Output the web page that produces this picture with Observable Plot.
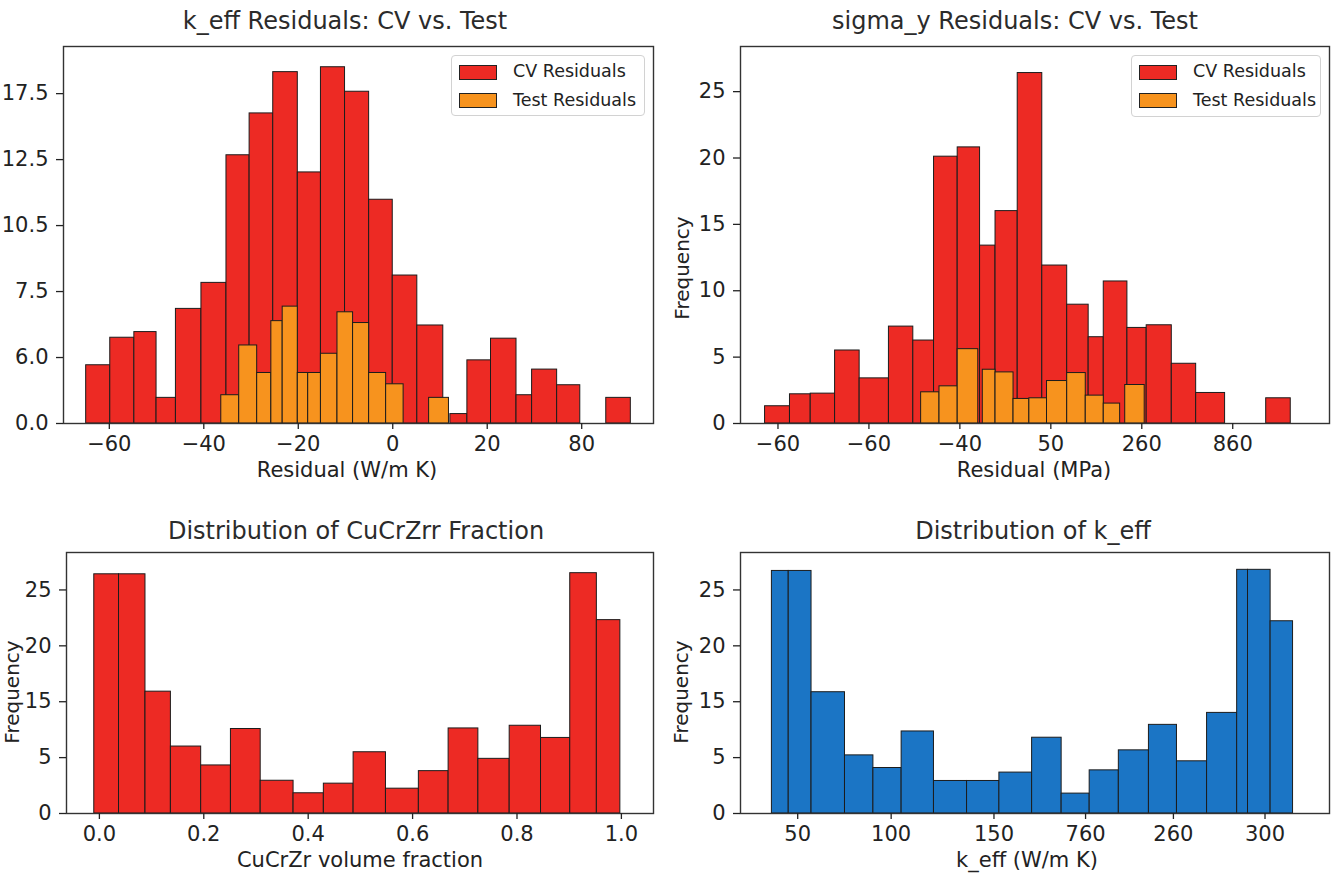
<!DOCTYPE html>
<html><head><meta charset="utf-8">
<script src="https://cdn.jsdelivr.net/npm/d3@7"></script>
<script src="https://cdn.jsdelivr.net/npm/@observablehq/plot@0.6"></script>
<style>
html,body{margin:0;padding:0;background:#fff;}
#root{position:relative;width:1336px;height:886px;overflow:hidden;font-family:"DejaVu Sans",sans-serif;color:#222;background:#fff;}
.panel{position:absolute;}
.panel svg{overflow:visible;}
.t{position:absolute;white-space:nowrap;line-height:1;transform:translate(-50%,-50%);}
.title{font-size:24px;color:#2b2b2b;}
.xl{font-size:21px;color:#222;}
.yl{font-size:20px;color:#222;transform:translate(-50%,-50%) rotate(-90deg);}
.legend{position:absolute;border:1px solid #d2d2d2;border-radius:4px;background:rgba(255,255,255,0.85);box-sizing:border-box;}
.sw{position:absolute;box-sizing:border-box;border:1px solid #222;}
.lt{position:absolute;font-size:17.5px;line-height:1;transform:translateY(-50%);white-space:nowrap;color:#222;}
</style></head><body><div id="root"></div>
<script>
// ---------- Panel 1: k_eff residuals ----------
const kCvLo    = [-64.9,-59.8,-54.7,-50.0,-45.9,-40.5,-35.2,-30.3,-25.3,-20.1,-15.2,-10.1,-5.0,0,5.2,12.2,15.8,20.8,26.2,29.5,34.8,45.2];
const kCvHi    = [-59.8,-54.7,-50.0,-45.9,-40.5,-35.2,-30.3,-25.3,-20.1,-15.2,-10.1,-5.0,0,5.2,10.7,15.8,20.8,26.2,29.5,34.8,39.7,50.4];
const kCvCount = [3.09,4.55,4.85,1.36,6.08,7.46,14.23,16.45,18.64,13.32,18.9,17.6,11.87,7.85,5.2,0.5,3.35,4.5,1.5,2.86,2.03,1.36];
const kTeLo    = [-36.3,-32.5,-28.7,-25.7,-23.3,-20.1,-17.9,-15.2,-11.7,-8.4,-5.0,-1.4,7.7];
const kTeHi    = [-32.5,-28.7,-25.7,-23.3,-20.1,-17.9,-15.2,-11.7,-8.4,-5.0,-1.4,2.3,11.9];
const kTeCount = [1.5,4.14,2.68,5.43,6.2,2.68,2.68,3.7,5.9,5.33,2.68,2.08,1.36];
const kXTicks  = [-60,-40,-20,0,20,40];
const kXLabels = ["\u221260","\u221240","\u221220","0","20","80"];
const kYTicks  = [0,3.5,7,10.5,14,17.5];
const kYLabels = ["0.0","6.0","7.5","10.5","12.5","17.5"];

// ---------- Panel 2: sigma_y residuals ----------
const sCvLo    = [-107.1,-93.4,-82.0,-68.6,-55.1,-39.0,-25.6,-14.2,-1.2,11.1,19.6,31.8,45.3,59.0,70.8,79.1,92.1,102.7,116.5,129.9,168.4];
const sCvHi    = [-93.4,-82.0,-68.6,-55.1,-39.0,-25.6,-14.2,-1.2,11.1,19.6,31.8,45.3,59.0,70.8,79.1,92.1,102.7,116.5,129.9,145.8,181.9];
const sCvCount = [1.3,2.2,2.25,5.5,3.4,7.3,6.25,20.1,20.8,13.4,16.0,26.4,11.9,8.95,6.5,10.7,7.2,7.4,4.5,2.3,1.9];
const sTeLo    = [-21.3,-11.2,-1.2,12.6,19.6,29.5,38.2,47.9,59.0,69.2,79.1,90.9];
const sTeHi    = [-11.2,-1.2,10.1,19.6,29.5,38.2,47.9,59.0,69.2,79.1,88.1,101.6];
const sTeCount = [2.35,2.8,5.6,4.05,3.85,1.85,1.9,3.2,3.8,2.1,1.5,2.9];
const sXTicks  = [-100,-50,0,50,100,150];
const sXLabels = ["\u221260","\u221260","\u221240","50","260","860"];
const sYTicks  = [0,5,10,15,20,25];
const sYLabels = ["0","5","10","15","20","25"];

// ---------- Panel 3: CuCrZr fraction ----------
const fEdges  = [-0.0098,0.0376,0.0883,0.137,0.195,0.252,0.309,0.372,0.430,0.487,0.549,0.612,0.669,0.726,0.786,0.846,0.902,0.953,0.998];
const fCount  = [21.4,21.4,10.9,5.99,4.30,7.56,2.93,1.81,2.67,5.48,2.22,3.79,7.61,4.89,7.85,6.76,21.5,17.3];
const fXTicks = [0,0.2,0.4,0.6,0.8,1.0];
const fXLabels= ["0.0","0.2","0.4","0.6","0.8","1.0"];
const dYTicks = [0,5,10,15,20];
const dYLabels= ["0","5","15","20","25"];

// ---------- Panel 4: k_eff distribution ----------
const eEdges  = [36.2,45.2,57.4,75.3,90.5,105.6,122.9,140.6,157.9,175.4,191.2,206.2,221.8,237.9,252.9,269.0,285.1,290.9,303.0,315.0];
const eCount  = [21.7,21.7,10.85,5.2,4.07,7.34,2.91,2.91,3.66,6.78,1.78,3.86,5.65,7.93,4.67,9.0,21.8,21.8,17.2];
const eXTicks = [50,100,155,204,251,300];
const eXLabels= ["50","100","150","760","260","300"];

const RED = "#ed2a24", ORANGE = "#f7931e", BLUE = "#1b75c5";

const rows = (lo, hi, n) => n.map((v, i) => ({lo: lo[i], hi: hi[i], n: v}));
const fromEdges = (edges, n) => n.map((v, i) => ({lo: edges[i], hi: edges[i + 1], n: v}));

const root = document.getElementById("root");

function panel(o) {
  const xMap = new Map(o.xTicks.map((t, i) => [t, o.xLabels[i]]));
  const yMap = new Map(o.yTicks.map((t, i) => [t, o.yLabels[i]]));
  const svg = Plot.plot({
    width: o.width, height: o.height,
    marginTop: o.m[0], marginRight: o.m[1], marginBottom: o.m[2], marginLeft: o.m[3],
    x: {type: "linear", domain: o.xDomain},
    y: {type: "linear", domain: o.yDomain},
    style: {fontFamily: '"DejaVu Sans", sans-serif', fontSize: "21px", color: "#222", background: "transparent", overflow: "visible"},
    marks: [
      ...o.layers.map(L => Plot.rect(L.data, {x1: "lo", x2: "hi", y1: 0, y2: "n", fill: L.fill, stroke: "#1c1c1c", strokeWidth: 1})),
      Plot.frame({stroke: "#333", strokeWidth: 1.4}),
      Plot.axisX({ticks: o.xTicks, tickFormat: d => xMap.get(d), tickSize: 6, tickPadding: 7, label: null, strokeWidth: 1.3}),
      Plot.axisY({ticks: o.yTicks, tickFormat: d => yMap.get(d), tickSize: 7, tickPadding: 8, label: null, strokeWidth: 1.3})
    ]
  });
  const div = document.createElement("div");
  div.className = "panel";
  div.style.left = o.left + "px";
  div.style.top = o.top + "px";
  div.appendChild(svg);
  root.appendChild(div);
}

panel({left: 0, top: 0, width: 668, height: 470, m: [46, 15, 47, 63],
  xDomain: [-69.7, 55.2], yDomain: [0, 20],
  xTicks: kXTicks, xLabels: kXLabels, yTicks: kYTicks, yLabels: kYLabels,
  layers: [{data: rows(kCvLo, kCvHi, kCvCount), fill: RED}, {data: rows(kTeLo, kTeHi, kTeCount), fill: ORANGE}]});

panel({left: 668, top: 0, width: 668, height: 470, m: [46, 7, 47, 72],
  xDomain: [-120.6, 203.2], yDomain: [0, 28.4],
  xTicks: sXTicks, xLabels: sXLabels, yTicks: sYTicks, yLabels: sYLabels,
  layers: [{data: rows(sCvLo, sCvHi, sCvCount), fill: RED}, {data: rows(sTeLo, sTeHi, sTeCount), fill: ORANGE}]});

panel({left: 0, top: 500, width: 668, height: 360, m: [52, 15, 47, 66],
  xDomain: [-0.063, 1.0615], yDomain: [0, 23.35],
  xTicks: fXTicks, xLabels: fXLabels, yTicks: dYTicks, yLabels: dYLabels,
  layers: [{data: fromEdges(fEdges, fCount), fill: RED}]});

panel({left: 668, top: 500, width: 668, height: 360, m: [52, 7, 47, 72],
  xDomain: [19.4, 334.5], yDomain: [0, 23.35],
  xTicks: eXTicks, xLabels: eXLabels, yTicks: dYTicks, yLabels: dYLabels,
  layers: [{data: fromEdges(eEdges, eCount), fill: BLUE}]});

function text(cls, str, x, y) {
  const d = document.createElement("div");
  d.className = "t " + cls;
  d.textContent = str;
  d.style.left = x + "px";
  d.style.top = y + "px";
  root.appendChild(d);
}
text("title", "k_eff Residuals: CV vs. Test", 345, 21);
text("title", "sigma_y Residuals: CV vs. Test", 1015, 21);
text("title", "Distribution of CuCrZrr Fraction", 356, 531);
text("title", "Distribution of k_eff", 1033, 531);
text("xl", "Residual (W/m K)", 347, 470);
text("xl", "Residual (MPa)", 1034, 470);
text("xl", "CuCrZr volume fraction", 360, 860);
text("xl", "k_eff (W/m K)", 1027, 860);
text("yl", "Frequency", 682, 268);
text("yl", "Frequency", 681, 692);
text("yl", "Frequency", 12, 692);

function legend(left, top, w, h, swLeft, swW, txtLeft) {
  const box = document.createElement("div");
  box.className = "legend";
  Object.assign(box.style, {left: left + "px", top: top + "px", width: w + "px", height: h + "px"});
  const items = [["CV Residuals", RED, 8.5], ["Test Residuals", ORANGE, 37]];
  items.forEach(([label, color, y]) => {
    const s = document.createElement("div");
    s.className = "sw";
    Object.assign(s.style, {left: swLeft + "px", top: y + "px", width: swW + "px", height: "15px", background: color});
    box.appendChild(s);
    const t = document.createElement("div");
    t.className = "lt";
    t.textContent = label;
    Object.assign(t.style, {left: txtLeft + "px", top: (y + 7.5) + "px"});
    box.appendChild(t);
  });
  root.appendChild(box);
}
legend(451, 55, 194, 61, 7, 38, 61);
legend(1131, 55, 190, 62, 7, 38, 61);
</script></body></html>
